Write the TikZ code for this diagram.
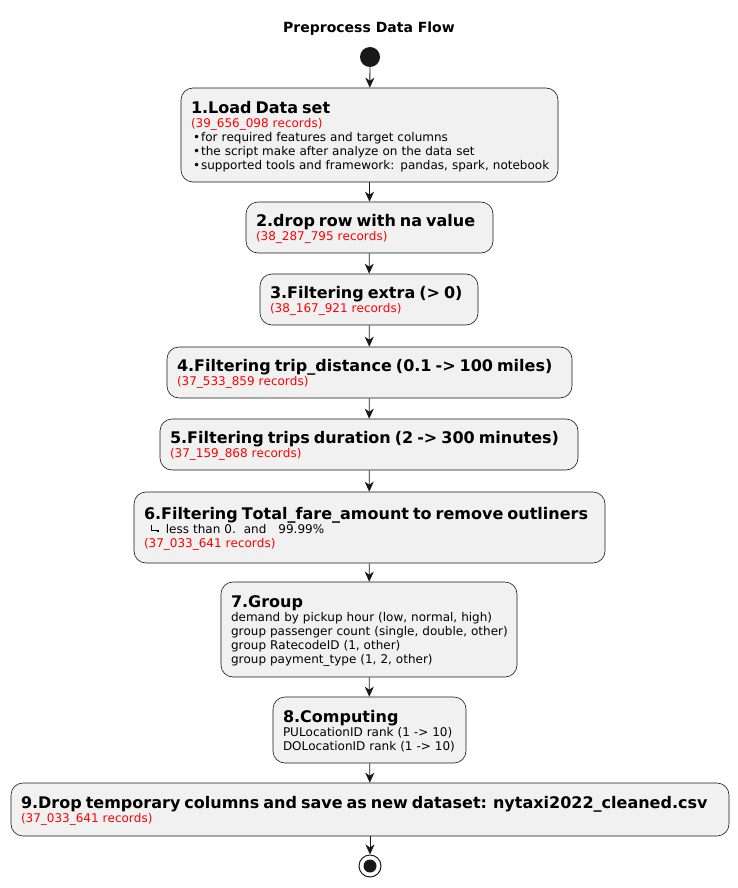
\documentclass[tikz,border=0pt]{standalone}
\usepackage{fontspec}
\setmainfont{DejaVu Sans}[Kerning=Off]
\usetikzlibrary{arrows.meta}
\definecolor{boxfill}{HTML}{F1F1F1}
\definecolor{ink}{HTML}{181818}
\definecolor{rec}{HTML}{FF0000}
\newcommand{\hd}[1]{\mbox{\rule{0pt}{15pt}\fontsize{16}{19}\selectfont\bfseries #1}}
\newcommand{\recs}[1]{\mbox{\color{rec}#1}}
\newcommand{\tl}[1]{\mbox{#1}}
\newcommand{\bul}{\hspace*{2pt}•\hspace{1pt}}
\newcommand{\treemark}{\hspace*{7pt}\rule[2.5pt]{0.6pt}{6pt}\rule[2.5pt]{5pt}{0.6pt}\rule[1.6pt]{2.3pt}{2.3pt}\hspace{7pt}}
\begin{document}
\begin{tikzpicture}[x=1pt,y=-1pt,
  box/.style={draw=ink, fill=boxfill, rounded corners=12pt, line width=0.6pt,
    inner xsep=10pt, inner ysep=0pt, align=left,
    font=\fontsize{12}{14}\selectfont, anchor=center},
  flow/.style={draw=ink, line width=0.8pt, -{Stealth[length=10pt,width=9pt,inset=3pt]}}]
\useasboundingbox (0,0) rectangle (738,888);
\node[font=\fontsize{14}{17}\selectfont\bfseries, anchor=base] (title) at (369,33) {Preprocess Data Flow};
\node[circle, fill=ink, minimum size=20pt, inner sep=0pt] (start) at (370,57) {};

\node[box, minimum height=94, text width=357] (b1) at (369.5,135)
 {\hd{1.Load Data set}\\
  \recs{(39\_656\_098 records)}\\
  \tl{\bul for required features and target columns}\\
  \tl{\bul the script make after analyze on the data set}\\
  \tl{\bul supported tools and framework: pandas, spark, notebook}};
\node[box, minimum height=51, text width=227] (b2) at (369.5,227.5)
 {\hd{2.drop row with na value}\\\recs{(38\_287\_795 records)}};
\node[box, minimum height=51, text width=198] (b3) at (369,299.5)
 {\hd{3.Filtering extra (> 0)}\\\recs{(38\_167\_921 records)}};
\node[box, minimum height=51, text width=385] (b4) at (369.5,372.5)
 {\hd{4.Filtering trip\_distance (0.1 -> 100 miles)}\\\recs{(37\_533\_859 records)}};
\node[box, minimum height=51, text width=398] (b5) at (369,444.5)
 {\hd{5.Filtering trips duration (2 -> 300 minutes)}\\\recs{(37\_159\_868 records)}};
\node[box, minimum height=71, text width=451] (b6) at (369.5,527.5)
 {\hd{6.Filtering Total\_fare\_amount to remove outliners}\\
  \tl{\treemark less than 0.\ \ and\ \ \ 99.99\%}\\
  \recs{(37\_033\_641 records)}};
\node[box, minimum height=95, text width=276] (b7) at (369,629.5)
 {\hd{7.Group}\\
  \tl{demand by pickup hour (low, normal, high)}\\
  \tl{group passenger count (single, double, other)}\\
  \tl{group RatecodeID (1, other)}\\
  \tl{group payment\_type (1, 2, other)}};
\node[box, minimum height=66, text width=173] (b8) at (369.5,730)
 {\hd{8.Computing}\\
  \tl{PULocationID rank (1 -> 10)}\\
  \tl{DOLocationID rank (1 -> 10)}};
\node[box, minimum height=53, text width=698] (b9) at (370,809.5)
 {\hd{9.Drop temporary columns and save as new dataset: nytaxi2022\_cleaned.csv}\\
  \recs{(37\_033\_641 records)}};
\node[circle, draw=ink, line width=1pt, minimum size=22pt, inner sep=0pt,
  path picture={\fill[ink] (path picture bounding box.center) circle (6.5pt);}] (end) at (370,866) {};

\draw[flow] (start) -- (b1);
\draw[flow] (b1) -- (b2);
\draw[flow] (b2) -- (b3);
\draw[flow] (b3) -- (b4);
\draw[flow] (b4) -- (b5);
\draw[flow] (b5) -- (b6);
\draw[flow] (b6) -- (b7);
\draw[flow] (b7) -- (b8);
\draw[flow] (b8) -- (b9);
\draw[flow] (b9) -- (end);
\end{tikzpicture}
\end{document}
